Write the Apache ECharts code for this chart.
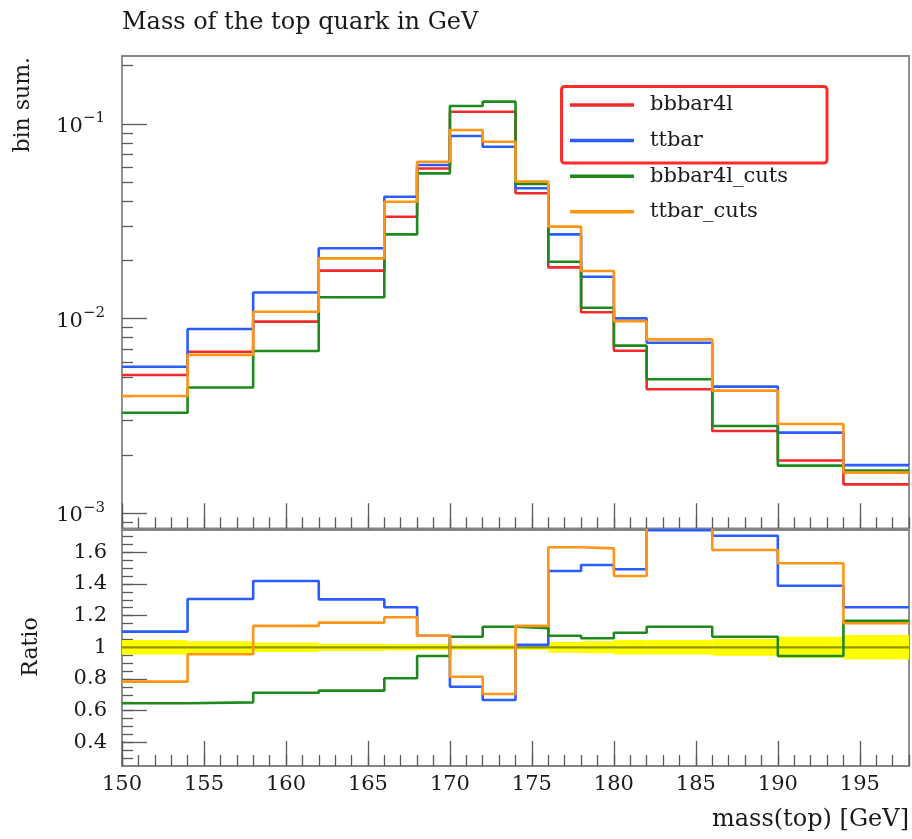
<!DOCTYPE html>
<html><head><meta charset="utf-8">
<script src="https://cdn.jsdelivr.net/npm/echarts@6/dist/echarts.min.js"></script>
<style>html,body{margin:0;padding:0;background:#fff}#c{width:912px;height:839px}</style>
</head><body><div id="c"></div>
<script>
// ---- data ----
const binEdges = [150,154,158,162,166,168,170,172,174,176,178,180,182,186,190,194,198];
const bbbar4l      = [0.00514,0.00677,0.00966,0.01765,0.0334,0.0591,0.1157,0.1157,0.0441,0.01836,0.01079,0.00685,0.00434,0.00265,0.00187,0.00141];
const ttbar        = [0.00567,0.00885,0.01364,0.0230,0.0423,0.0616,0.0868,0.0764,0.0468,0.0271,0.01643,0.01004,0.00753,0.00448,0.0026,0.00177];
const bbbar4lCuts  = [0.00329,0.00443,0.00683,0.01288,0.0271,0.0558,0.1238,0.1303,0.0492,0.0196,0.01139,0.00727,0.00489,0.00281,0.00176,0.00166];
const ttbarCuts    = [0.00401,0.00652,0.01086,0.0204,0.0399,0.0640,0.0932,0.0811,0.0506,0.0297,0.01758,0.00972,0.00783,0.00427,0.00288,0.00162];
const ratioTtbar       = [1.099,1.305,1.419,1.303,1.253,1.073,0.751,0.667,1.015,1.482,1.52,1.493,1.74,1.705,1.389,1.253];
const ratioBbbar4lCuts = [0.646,0.652,0.713,0.726,0.804,0.945,1.067,1.13,1.12,1.073,1.057,1.092,1.13,1.067,0.945,1.168];
const ratioTtbarCuts   = [0.783,0.956,1.135,1.156,1.19,1.073,0.814,0.705,1.135,1.632,1.625,1.45,1.80,1.615,1.531,1.152];
const refUncertainty   = [0.046,0.038,0.03,0.023,0.021,0.019,0.016,0.016,0.016,0.034,0.038,0.046,0.046,0.053,0.067,0.077];
const xTickLabels = [150,155,160,165,170,175,180,185,190,195];
const logDecades = [-3,-2,-1];
const ratioTickLabels = [0.4,0.6,0.8,1,1.2,1.4,1.6];
const seriesNames = ['bbbar4l','ttbar','bbbar4l_cuts','ttbar_cuts'];
const colors = ['#f02a2a','#2a5cff','#1e8a1e','#ff9415'];

// ---- helpers ----
const FONT = '"DejaVu Serif", serif';
const TXT = '#1a1a1a';
const TICK = '#5a5a5a';
function stepData(vals, tf) {
  const d = vals.map((v, i) => [binEdges[i], tf(v)]);
  d.push([binEdges[binEdges.length - 1], tf(vals[vals.length - 1])]);
  return d;
}
const minorX = []; for (let v = 150; v <= 198; v++) minorX.push(v);
const minorLog = [];
logDecades.concat([0]).forEach(d => { for (let k = 2; k <= 9; k++) minorLog.push(Math.log10(k) + d - 1); });
const minorRatio = []; for (let i = 6; i <= 34; i++) minorRatio.push(+(i * 0.05).toFixed(2));

const Y_MAX = -0.6507, Y_MIN = -3.0765;
const R_MIN = 0.25, R_MAX = 1.741;

function xAx(grid, ticks, len, labels) {
  return {
    type: 'value', gridIndex: grid, position: 'bottom', min: 150, max: 198,
    axisLine: { show: false }, splitLine: { show: false },
    axisTick: { show: true, inside: true, length: len, customValues: ticks, lineStyle: { color: TICK, width: 1.3 } },
    axisLabel: labels ? { show: true, customValues: xTickLabels, margin: 8, fontFamily: FONT, fontSize: 21, color: TXT } : { show: false }
  };
}
function yAx(grid, min, max, ticks, len, label) {
  return {
    type: 'value', gridIndex: grid, position: 'left', min: min, max: max,
    axisLine: { show: false }, splitLine: { show: false },
    axisTick: { show: true, inside: true, length: len, customValues: ticks, lineStyle: { color: TICK, width: 1.3 } },
    axisLabel: label || { show: false }
  };
}

const mainSeries = [bbbar4l, ttbar, bbbar4lCuts, ttbarCuts].map((vals, i) => ({
  name: seriesNames[i], type: 'line', step: 'end', symbol: 'none', xAxisIndex: 0, yAxisIndex: 0,
  data: stepData(vals, Math.log10), lineStyle: { color: colors[i], width: 2.6 }, itemStyle: { color: colors[i] },
  z: 3 + i, animation: false
}));
const ratioSeries = [[1, ratioTtbar], [2, ratioBbbar4lCuts], [3, ratioTtbarCuts]].map(([ci, vals]) => ({
  name: seriesNames[ci], type: 'line', step: 'end', symbol: 'none', xAxisIndex: 2, yAxisIndex: 2,
  data: stepData(vals, v => v), lineStyle: { color: colors[ci], width: 2.6 }, itemStyle: { color: colors[ci] },
  z: 3 + ci, clip: true, animation: false
}));

const bandData = refUncertainty.map((e, i) => [binEdges[i], binEdges[i + 1], e]);

const chart = echarts.init(document.getElementById('c'), null, { renderer: 'canvas' });
chart.setOption({
  animation: false,
  backgroundColor: '#fff',
  grid: [
    { left: 122, top: 56, width: 787, height: 472.3, show: true, borderColor: '#858585', borderWidth: 1.8, backgroundColor: 'transparent' },
    { left: 122, top: 530, width: 787, height: 236, show: true, borderColor: '#858585', borderWidth: 1.8, backgroundColor: 'transparent' }
  ],
  xAxis: [
    xAx(0, xTickLabels, 25, false),
    xAx(0, minorX, 11, false),
    xAx(1, xTickLabels, 25, true),
    xAx(1, minorX, 11, false)
  ],
  yAxis: [
    yAx(0, Y_MIN, Y_MAX, logDecades, 25, {
      show: true, customValues: logDecades, margin: 17,
      formatter: v => '{b|10}{s|\u2212' + Math.abs(Math.round(v)) + '}',
      rich: { b: { fontFamily: FONT, fontSize: 21, color: TXT, verticalAlign: 'bottom', lineHeight: 26 },
              s: { fontFamily: FONT, fontSize: 15, color: TXT, verticalAlign: 'top', lineHeight: 15 } }
    }),
    yAx(0, Y_MIN, Y_MAX, minorLog, 11, null),
    yAx(1, R_MIN, R_MAX, ratioTickLabels, 25, {
      show: true, customValues: ratioTickLabels, margin: 15, fontFamily: FONT, fontSize: 21, color: TXT
    }),
    yAx(1, R_MIN, R_MAX, minorRatio, 11, null)
  ],
  legend: {
    data: seriesNames, orient: 'vertical', left: 570, top: 93, padding: 0,
    icon: 'rect', itemWidth: 64, itemHeight: 3.5, itemGap: 11.6, selectedMode: false,
    textStyle: { fontFamily: FONT, fontSize: 21, color: TXT, lineHeight: 24, padding: [0, 0, 0, 11] }
  },
  series: [
    {
      type: 'custom', xAxisIndex: 2, yAxisIndex: 2, data: bandData, z: 1, silent: true,
      encode: { x: [0, 1], y: 2 },
      renderItem: (params, api) => {
        const p0 = api.coord([api.value(0), 1 + api.value(2)]);
        const p1 = api.coord([api.value(1), 1 - api.value(2)]);
        return { type: 'rect', shape: { x: p0[0], y: p0[1], width: p1[0] - p0[0], height: p1[1] - p0[1] }, style: { fill: '#ffff00' } };
      }
    },
    {
      type: 'line', xAxisIndex: 2, yAxisIndex: 2, symbol: 'none', silent: true, z: 2,
      data: [[150, 1], [198, 1]], lineStyle: { color: 'rgba(40,40,0,0.5)', width: 2.2 }
    },
    ...mainSeries,
    ...ratioSeries
  ],
  graphic: [
    { type: 'text', x: 122, y: 23, style: { text: 'Mass of the top quark in GeV', fontFamily: FONT, fontSize: 24, fill: TXT, verticalAlign: 'middle' } },
    { type: 'text', x: 909, y: 819.5, style: { text: 'mass(top) [GeV]', fontFamily: FONT, fontSize: 24, fill: TXT, align: 'right', verticalAlign: 'middle' } },
    { type: 'text', x: 23, y: 57, rotation: Math.PI / 2, style: { text: 'bin sum.', fontFamily: FONT, fontSize: 22, fill: TXT, align: 'right', verticalAlign: 'middle' } },
    { type: 'text', x: 31, y: 647, rotation: Math.PI / 2, style: { text: 'Ratio', fontFamily: FONT, fontSize: 22, fill: TXT, align: 'center', verticalAlign: 'middle' } },
    { type: 'rect', shape: { x: 561.5, y: 86.5, width: 265.5, height: 76.5, r: 3 }, style: { fill: 'none', stroke: '#ff2b2b', lineWidth: 3 }, z: 100 }
  ]
});
</script></body></html>
